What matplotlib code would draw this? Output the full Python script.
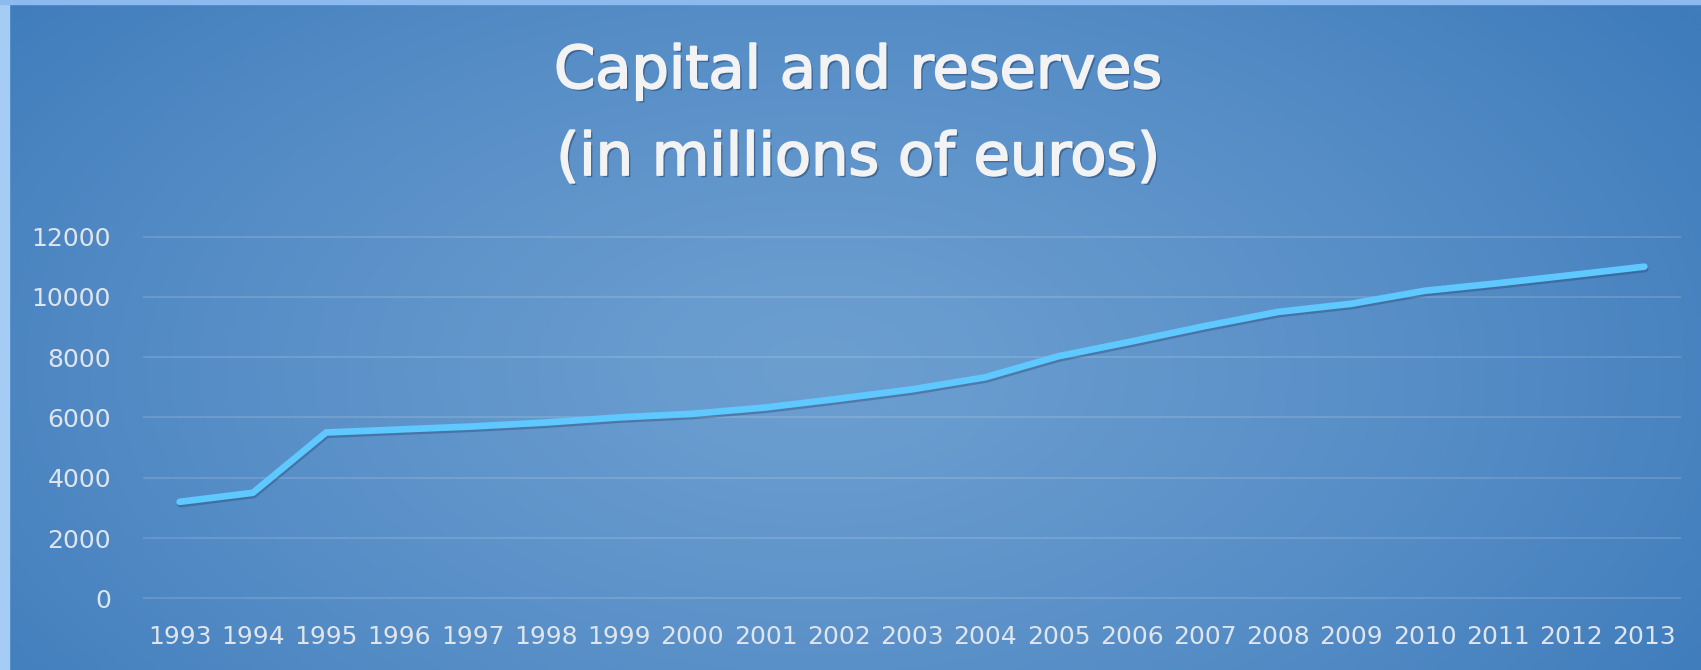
import matplotlib
matplotlib.use("Agg")
import matplotlib.pyplot as plt
import matplotlib.patheffects as pe
from matplotlib.patches import Rectangle
import numpy as np

# capital and reserves, millions of euros
years = [str(y) for y in range(1993, 2014)]
capital = [3200, 3500, 5500, 5600, 5700, 5830, 6000, 6120, 6330, 6620, 6930,
           7330, 8030, 8520, 9030, 9500, 9770, 10200, 10450, 10720, 11000]
yticks = [0, 2000, 4000, 6000, 8000, 10000, 12000]
title_lines = ["Capital and reserves", "(in millions of euros)"]

W, H = 1701, 670
fig = plt.figure(figsize=(W / 100, H / 100), dpi=100)

# soft radial blue background, lighter towards the middle
bg = fig.add_axes([0, 0, 1, 1], zorder=-10)
xx, yy = np.meshgrid(np.linspace(0, 1, 400), np.linspace(0, 1, 160))
r = np.sqrt(((xx - 0.48) / 0.62) ** 2 + ((yy - 0.55) / 0.9) ** 2)
t = np.clip(r, 0, 1) ** 1.3
inner = np.array([0x6c, 0x9e, 0xd0]) / 255
outer = np.array([0x3f, 0x7c, 0xbc]) / 255
img = inner[None, None, :] * (1 - t[..., None]) + outer[None, None, :] * t[..., None]
bg.imshow(img, extent=[0, 1, 0, 1], aspect="auto", interpolation="bicubic")
bg.set_xlim(0, 1)
bg.set_ylim(0, 1)
bg.axis("off")

# light frame strips on the left and top edges
fig.patches.append(Rectangle((0, 0), 9 / W, 1, transform=fig.transFigure,
                             color="#a4ccf4", zorder=5))
fig.patches.append(Rectangle((0, 1 - 4 / H), 1, 4 / H, transform=fig.transFigure,
                             color="#8cbaee", zorder=5))

ax = fig.add_axes([143 / W, 0.0935, (1681 - 143) / W, 0.567])
ax.set_facecolor("none")
x = np.arange(len(years))
ax.plot(x, capital, color="#5ec8ff", lw=4.8, solid_capstyle="round",
        solid_joinstyle="round", zorder=3,
        path_effects=[pe.SimpleLineShadow(offset=(0.6, -1.6), shadow_color="#1e3c66",
                                          alpha=0.35),
                      pe.Normal()])

ax.set_xlim(-0.5, len(years) - 0.5)
ax.set_ylim(-300, 12300)
ax.set_xticks(x)
ax.set_xticklabels(years)
ax.set_yticks(yticks)
ax.set_yticklabels([str(v) for v in yticks])
ax.tick_params(length=0, colors="#dfe5ec", labelsize=18)
ax.tick_params(axis="y", pad=23)
ax.tick_params(axis="x", pad=13)
for lab in ax.get_xticklabels() + ax.get_yticklabels():
    lab.set_family("DejaVu Sans")
ax.grid(axis="y", color="#ffffff", alpha=0.15, lw=1.3)
ax.grid(axis="x", visible=False)
for s in ax.spines.values():
    s.set_visible(False)

shadow = [pe.SimplePatchShadow(offset=(1.6, -1.6), shadow_rgbFace="#1a3358", alpha=0.45),
          pe.Stroke(linewidth=1.3, foreground="#f3f3f3"),
          pe.Normal()]
fig.text(858 / W, 1 - 88 / H, title_lines[0], ha="center", va="baseline",
         fontsize=42.5, color="#f3f3f3", family="DejaVu Sans", path_effects=shadow)
fig.text(858 / W, 1 - 175 / H, title_lines[1], ha="center", va="baseline",
         fontsize=42.5, color="#f3f3f3", family="DejaVu Sans", path_effects=shadow)

fig.savefig("out.png", dpi=100)
